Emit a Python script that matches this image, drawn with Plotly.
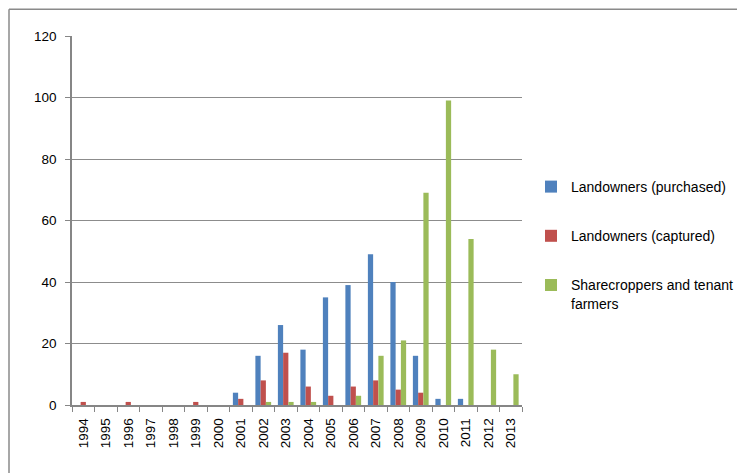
import plotly.graph_objects as go

years = [str(y) for y in range(1994, 2014)]
purchased = [0, 0, 0, 0, 0, 0, 0, 4, 16, 26, 18, 35, 39, 49, 40, 16, 2, 2, 0, 0]
captured = [1, 0, 1, 0, 0, 1, 0, 2, 8, 17, 6, 3, 6, 8, 5, 4, 0, 0, 0, 0]
sharecroppers = [0, 0, 0, 0, 0, 0, 0, 0, 1, 1, 1, 0, 3, 16, 21, 69, 99, 54, 18, 10]

series_names = ["Landowners (purchased)", "Landowners (captured)",
                "Sharecroppers and tenant<br>farmers"]
colors = ["#4F81BD", "#C0504D", "#9BBB59"]

fig = go.Figure()
for i, (name, vals, c) in enumerate(zip(series_names, [purchased, captured, sharecroppers], colors)):
    fig.add_trace(go.Bar(x=years, y=vals, name=name, marker=dict(color=c, line=dict(width=0)),
                         legendgroup=f"g{i}"))

# page offset (body margin) in the screenshot
OFF = 8
W, H = 745 - 2 * OFF, 473 - OFF
L, R, T, B = 72 - OFF, 737 - (530 - OFF), 36 - OFF, 465 - (405 - OFF)
pw, ph = W - L - R, H - T - B

def px(x):  # screen x -> paper
    return (x - OFF - L) / pw

def py(y):  # screen y -> paper
    return 1 - (y - OFF - T) / ph

top_y = py(OFF + 1.2)

fig.update_layout(
    width=W, height=H,
    margin=dict(l=L, r=R, t=T, b=B, autoexpand=False),
    paper_bgcolor="white", plot_bgcolor="white",
    barmode="group", bargap=0.3, bargroupgap=0,
    font=dict(family="Liberation Sans, Arial", size=13, color="#000000"),
    showlegend=True,
    legend=dict(x=px(531), y=py(171), xanchor="left", yanchor="top",
                font=dict(family="Liberation Sans, Arial", size=14, color="#000"),
                tracegroupgap=28, itemwidth=30, traceorder="grouped", valign="top",
                bgcolor="rgba(0,0,0,0)"),
    xaxis=dict(type="category", tickson="boundaries", ticks="outside", ticklen=5,
               tickcolor="#868686", showline=True, linecolor="#868686", linewidth=1.5,
               tickangle=-90, showgrid=False, tickfont=dict(size=13.5),
               ticklabelstandoff=6, range=[-0.5, 19.5]),
    yaxis=dict(range=[0, 120], dtick=20, ticks="outside", ticklen=5, tickcolor="#868686",
               showline=True, linecolor="#868686", linewidth=1.5,
               showgrid=True, gridcolor="#8C8C8C", gridwidth=1, zeroline=False,
               tickfont=dict(size=13.5), ticklabelstandoff=6),
    shapes=[
        dict(type="line", xref="paper", yref="paper", x0=px(9), x1=px(9), y0=top_y, y1=py(480),
             line=dict(color="#8A8A8A", width=1.5)),
        dict(type="line", xref="paper", yref="paper", x0=px(9), x1=px(760), y0=top_y, y1=top_y,
             line=dict(color="#8A8A8A", width=1.5)),
    ],
)

fig.write_html("out.html")
